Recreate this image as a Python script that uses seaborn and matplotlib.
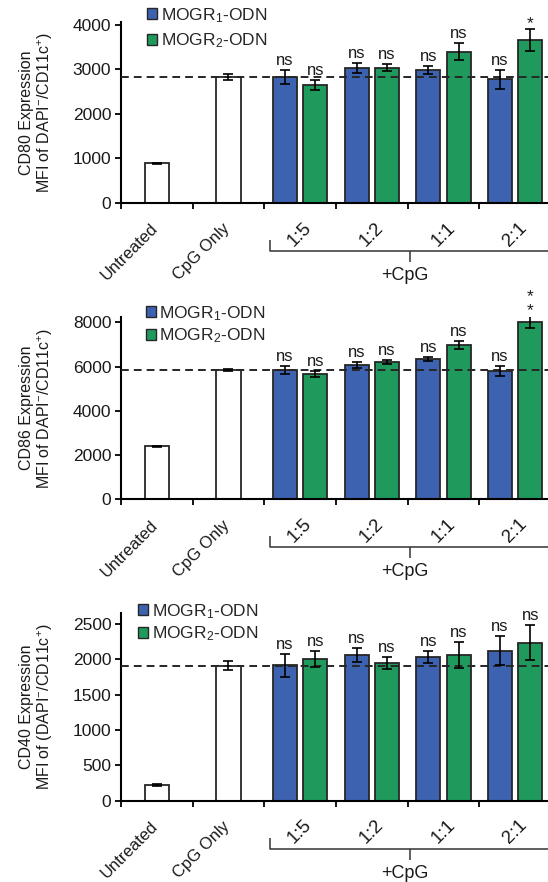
import numpy as np
import pandas as pd
import matplotlib
matplotlib.use("Agg")
import matplotlib.pyplot as plt
import matplotlib.patches as mpatches
from matplotlib import transforms
from matplotlib.container import BarContainer
import seaborn as sns

# ---------------- data ----------------
categories = ["Untreated", "CpG Only", "1:5", "1:2", "1:1", "2:1"]
controls = ["Untreated", "CpG Only"]
ratios = ["1:5", "1:2", "1:1", "2:1"]
groups = ["MOGR$_1$-ODN", "MOGR$_2$-ODN"]

# CD80
cd80_ctrl = [890, 2830]
cd80_ctrl_err = [20, 60]
cd80_mogr1 = [2830, 3040, 2990, 2780]
cd80_mogr1_err = [165, 110, 90, 215]
cd80_mogr2 = [2650, 3040, 3400, 3670]
cd80_mogr2_err = [110, 85, 190, 250]
cd80_sig1 = ["ns", "ns", "ns", "ns"]
cd80_sig2 = ["ns", "ns", "ns", "*"]

# CD86
cd86_ctrl = [2400, 5830]
cd86_ctrl_err = [30, 40]
cd86_mogr1 = [5840, 6080, 6360, 5800]
cd86_mogr1_err = [180, 130, 90, 210]
cd86_mogr2 = [5680, 6200, 6970, 8020]
cd86_mogr2_err = [135, 75, 195, 265]
cd86_sig1 = ["ns", "ns", "ns", "ns"]
cd86_sig2 = ["ns", "ns", "ns", "**"]

# CD40
cd40_ctrl = [225, 1910]
cd40_ctrl_err = [15, 68]
cd40_mogr1 = [1915, 2060, 2030, 2120]
cd40_mogr1_err = [165, 104, 85, 207]
cd40_mogr2 = [2005, 1948, 2060, 2235]
cd40_mogr2_err = [110, 82, 180, 250]
cd40_sig1 = ["ns", "ns", "ns", "ns"]
cd40_sig2 = ["ns", "ns", "ns", "ns"]

cd80_yticks = [0, 1000, 2000, 3000, 4000]
cd86_yticks = [0, 2000, 4000, 6000, 8000]
cd40_yticks = [0, 500, 1000, 1500, 2000, 2500]

cd80_ylabel = "CD80 Expression\nMFI of DAPI$^{-}$/CD11c$^{+}$)"
cd86_ylabel = "CD86 Expression\nMFI of DAPI$^{-}$/CD11c$^{+}$)"
cd40_ylabel = "CD40 Expression\nMFI of (DAPI$^{-}$/CD11c$^{+}$)"
bracket_label = "+CpG"

# ---------------- style ----------------
sns.set_style("ticks")
plt.rcParams["font.family"] = ["Liberation Sans", "DejaVu Sans"]
plt.rcParams["mathtext.fontset"] = "custom"
plt.rcParams["mathtext.rm"] = "Liberation Sans"
plt.rcParams["mathtext.it"] = "Liberation Sans:italic"
plt.rcParams["mathtext.bf"] = "Liberation Sans:bold"
plt.rcParams["mathtext.default"] = "regular"

BLUE = "#3D62AF"
GREEN = "#1F9A5C"
EDGE = "#262626"
TXT = "#1a1a1a"

W, H = 548, 882
fig = plt.figure(figsize=(W / 100, H / 100), dpi=100)


def px_axes(left, top, width, bottom):
    return fig.add_axes([left / W, (H - bottom) / H, width / W, (bottom - top) / H])


def draw_panel(ax, ctrl, ctrl_err, m1, e1, m2, e2, s1, s2, yticks, ytop, ylabel,
               leg_xy, leg_spacing):
    ctrl_df = pd.DataFrame({"cond": controls, "value": ctrl})
    trt_df = pd.DataFrame({
        "cond": ratios * 2,
        "group": [groups[0]] * len(ratios) + [groups[1]] * len(ratios),
        "value": list(m1) + list(m2),
    })
    sns.barplot(data=ctrl_df, x="cond", y="value", order=categories, color="white",
                saturation=1, width=0.335, edgecolor=EDGE, linewidth=1.3,
                errorbar=None, ax=ax, zorder=2)
    sns.barplot(data=trt_df, x="cond", y="value", hue="group", order=categories,
                hue_order=groups, palette=[BLUE, GREEN], saturation=1, width=0.84,
                gap=0.2, edgecolor=EDGE, linewidth=1.3, errorbar=None, legend=False,
                ax=ax, zorder=2)

    # reference line at CpG Only level
    ax.axhline(ctrl[1], color=EDGE, lw=1.4, ls=(0, (4, 2.6)), zorder=4)

    err_lookup = [dict(zip(controls, ctrl_err)), dict(zip(ratios, e1)), dict(zip(ratios, e2))]
    sig_lookup = [None, dict(zip(ratios, s1)), dict(zip(ratios, s2))]
    bar_conts = [c for c in ax.containers if isinstance(c, BarContainer)]
    for ci, cont in enumerate(bar_conts):
        for bar in cont:
            xc = bar.get_x() + bar.get_width() / 2
            h = bar.get_height()
            cat = categories[int(round(xc))]
            e = err_lookup[ci][cat]
            ax.errorbar(xc, h, yerr=e, fmt="none", ecolor="black", elinewidth=1.2,
                        capsize=3.5, capthick=1.2, zorder=5)
            if sig_lookup[ci] is not None:
                s = sig_lookup[ci][cat]
                if set(s) == {"*"}:
                    for k in range(len(s)):
                        ax.annotate("*", xy=(xc, h + e), xytext=(0, 0.5 + k * 10),
                                    textcoords="offset points", ha="center",
                                    va="baseline", fontsize=12.5, color=TXT,
                                    annotation_clip=False)
                else:
                    ax.annotate(s, xy=(xc, h + e), xytext=(0, 1.5),
                                textcoords="offset points", ha="center", va="bottom",
                                fontsize=12, color=TXT, annotation_clip=False)

    ax.set_xlim(-0.5, len(categories) - 0.5)
    ax.set_ylim(0, ytop)
    ax.set_yticks(yticks)
    ax.set_yticklabels([str(t) for t in yticks], fontsize=12.5, color=TXT)
    ax.set_xticks(np.arange(-0.5, len(categories), 1.0))
    ax.set_xticklabels([])
    ax.set_xlabel("")
    ax.tick_params(axis="both", direction="out", length=4, width=1.3, color="black", pad=3)
    sns.despine(ax=ax)
    for sp in ["left", "bottom"]:
        ax.spines[sp].set_linewidth(1.5)
        ax.spines[sp].set_color("black")

    ax.set_ylabel(ylabel, fontsize=11.5, color=TXT, linespacing=1.1)
    ax.yaxis.set_label_coords(-0.153, 0.5)

    # category labels
    for i, cat in enumerate(categories):
        if cat in controls:
            tr = transforms.offset_copy(ax.get_xaxis_transform(), fig=fig, x=4, y=-18, units="dots")
            ax.text(i, 0, cat, transform=tr, rotation=45, ha="right", va="top",
                    fontsize=12, color=TXT)
        else:
            tr = transforms.offset_copy(ax.get_xaxis_transform(), fig=fig, x=0, y=-16, units="dots")
            ax.text(i, 0, cat, transform=tr, rotation=45, ha="center", va="top",
                    fontsize=13.5, color=TXT)

    # +CpG bracket
    h_px = ax.get_position().height * H
    btr = transforms.blended_transform_factory(ax.transData, ax.transAxes)
    f = lambda p: -p / h_px
    x0, x1 = 1.58, 5.48
    xm = (x0 + x1) / 2
    ax.plot([x0, x0, x1], [f(37), f(48), f(48)], transform=btr, color="#333333",
            lw=1.1, clip_on=False, solid_capstyle="butt")
    ax.plot([xm, xm], [f(48), f(59)], transform=btr, color="#333333", lw=1.1,
            clip_on=False, solid_capstyle="butt")
    ax.text(xm - 0.07, f(64), bracket_label, transform=btr, ha="center", va="top",
            fontsize=13, color=TXT)

    handles = [mpatches.Patch(facecolor=c, edgecolor=EDGE, linewidth=1.0, label=g)
               for c, g in zip([BLUE, GREEN], groups)]
    ax.legend(handles=handles, loc="upper left",
              bbox_to_anchor=(leg_xy[0] / W, (H - leg_xy[1]) / H),
              bbox_transform=fig.transFigure, frameon=False, fontsize=12.5,
              handlelength=0.6, handleheight=0.6, handletextpad=0.2,
              borderpad=0, borderaxespad=0, labelspacing=leg_spacing)


ax1 = px_axes(121, 22, 430, 203)
ax2 = px_axes(121, 316.7, 430, 499.3)
ax3 = px_axes(121, 613.3, 430, 800.7)

draw_panel(ax1, cd80_ctrl, cd80_ctrl_err, cd80_mogr1, cd80_mogr1_err, cd80_mogr2,
           cd80_mogr2_err, cd80_sig1, cd80_sig2, cd80_yticks, 4067, cd80_ylabel,
           (147, 6), 0.4)
draw_panel(ax2, cd86_ctrl, cd86_ctrl_err, cd86_mogr1, cd86_mogr1_err, cd86_mogr2,
           cd86_mogr2_err, cd86_sig1, cd86_sig2, cd86_yticks, 8255, cd86_ylabel,
           (145.5, 304), 0.2)
draw_panel(ax3, cd40_ctrl, cd40_ctrl_err, cd40_mogr1, cd40_mogr1_err, cd40_mogr2,
           cd40_mogr2_err, cd40_sig1, cd40_sig2, cd40_yticks, 2650, cd40_ylabel,
           (138, 602), 0.2)

fig.savefig("out.png", dpi=100, facecolor="white")
